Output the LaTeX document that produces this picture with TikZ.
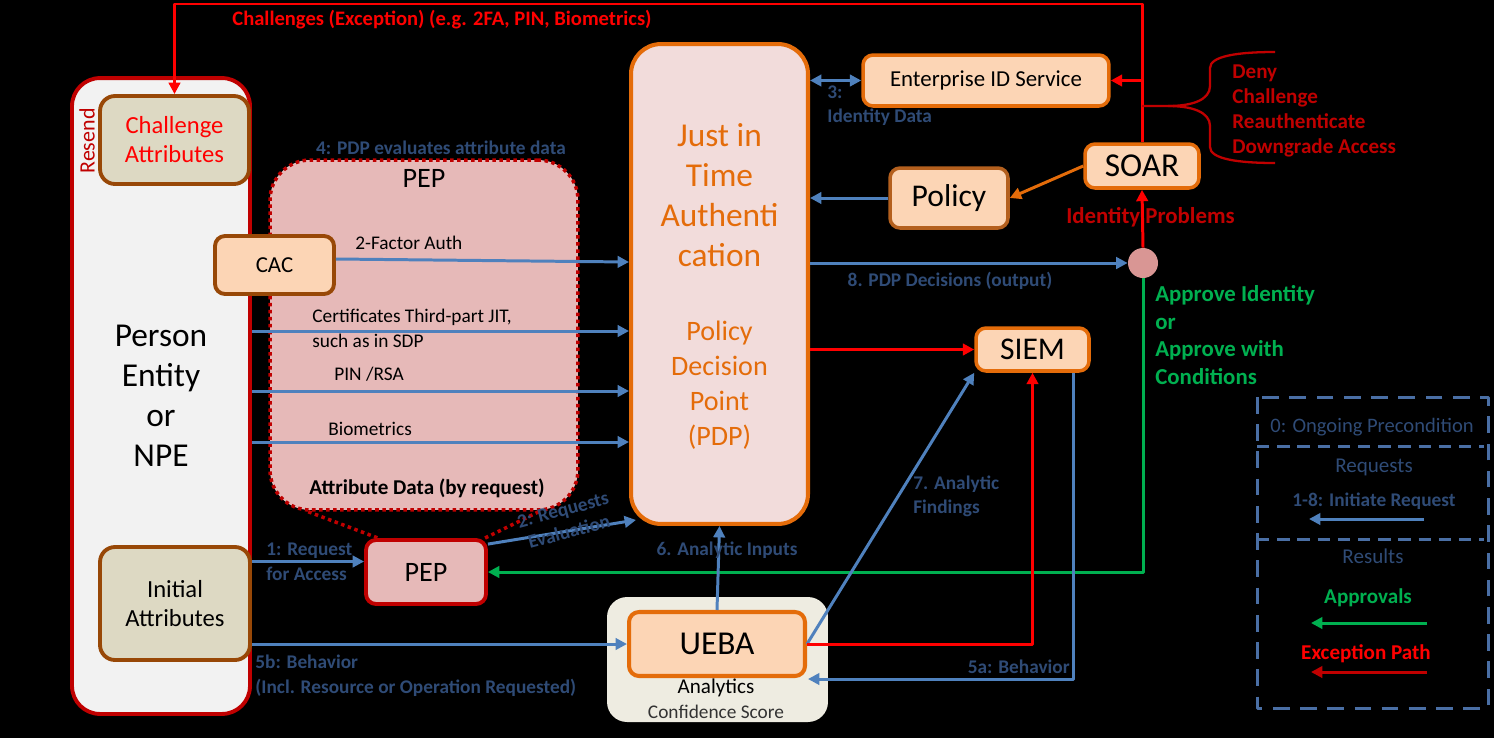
\documentclass[tikz,border=0pt]{standalone}
\usepackage{fontspec}
\setmainfont{Carlito}
\usetikzlibrary{arrows.meta,calc,positioning}
\newcommand\fsz[2]{\fontsize{#1}{#2}\selectfont}
\definecolor{darkred}{HTML}{C00000}
\definecolor{brightred}{HTML}{FF0000}
\definecolor{steel}{HTML}{4F81BD}
\definecolor{navytext}{HTML}{2F4B76}
\definecolor{jitorange}{HTML}{E46C0A}
\definecolor{peachfill}{HTML}{FCD5B5}
\definecolor{pinkfill}{HTML}{F2DCDB}
\definecolor{rosefill}{HTML}{E6B9B8}
\definecolor{tanfill}{HTML}{DDD9C3}
\definecolor{brownline}{HTML}{984807}
\definecolor{policyline}{HTML}{B4601E}
\definecolor{entfill}{HTML}{F2F2F2}
\definecolor{creamfill}{HTML}{EEECE1}
\definecolor{apgreen}{HTML}{00B050}
\definecolor{dotpink}{HTML}{D99694}
\definecolor{legendblue}{HTML}{4A6FA5}
\tikzset{
  entbox/.style={draw=darkred, fill=entfill, line width=2.2pt, rounded corners=0.56cm, inner sep=0pt, align=center},
  attrbox/.style={draw=brownline, fill=tanfill, line width=2.2pt, rounded corners=0.3cm, inner sep=0pt, align=center, font=\fsz{14}{16.5}},
  servbox/.style={draw=jitorange, fill=peachfill, line width=2pt, rounded corners=0.2cm, inner sep=0pt, align=center},
  bluearrow/.style={draw=steel, line width=1.7pt, -{Triangle[length=6.5pt,width=6.5pt]}},
  redarrow/.style={draw=brightred, line width=1.7pt, -{Triangle[length=6.5pt,width=6.5pt]}},
  greenarrow/.style={draw=apgreen, line width=1.7pt, -{Triangle[length=6.5pt,width=6.5pt]}},
  steplabel/.style={text=navytext, font=\bfseries\fsz{11}{14}, align=left, inner xsep=0pt},
  attrlabel/.style={font=\fsz{11}{14.2}, align=left, inner xsep=0pt},
  legenddash/.style={draw=legendblue, line width=1.7pt, dash pattern=on 9.5pt off 6pt}
}
\begin{document}
\begin{tikzpicture}[x=0.02cm, y=-0.02cm, line join=round]
\useasboundingbox (0,0) rectangle (1494,738);
\fill[black] (0,0) rectangle (1494,738);

% boxes
\node[entbox, minimum width=3.56cm, minimum height=12.72cm, font=\fsz{19}{22.8}] (person) at (161,396) {Person\\Entity\\or\\NPE};
\node[attrbox, text=brightred, minimum width=2.98cm, minimum height=1.76cm] (chall) at (174.5,140) {Challenge\\Attributes};
\node[attrbox, minimum width=3cm, minimum height=2.26cm] (init) at (175,603.5) {Initial\\Attributes};
\node[draw=darkred, fill=rosefill, line width=2pt, dotted, rounded corners=0.8cm, minimum width=6.16cm, minimum height=7cm] (pepbox) at (424,335) {};
\node[font=\fsz{16}{19}] (peptitle) at (424,178) {PEP};
\node[font=\bfseries\fsz{12}{14}] (attrdata) at (427,488) {Attribute Data (by request)};
\node[servbox, draw=brownline, line width=2.2pt, minimum width=2.38cm, minimum height=1.16cm, font=\fsz{13}{15}] (cac) at (274.5,265) {CAC};

\node[draw=jitorange, fill=pinkfill, line width=2.3pt, rounded corners=0.6cm, minimum width=3.54cm, minimum height=9.6cm] (jit) at (719.5,284) {};
\node[text=jitorange, font=\fsz{19}{22.8}, align=center] (jittext) at (719.5,195) {Just in\\Time\\Authenti\\cation};
\node[text=jitorange, font=\fsz{16}{19.9}, align=center] (pdptext) at (719.5,385) {Policy\\Decision\\Point\\(PDP)};

\node[servbox, minimum width=4.92cm, minimum height=1.02cm, font=\fsz{13}{15}] (eid) at (986,80.5) {Enterprise ID Service};
\node[servbox, draw=policyline, minimum width=2.36cm, minimum height=1.2cm, font=\fsz{18}{21}] (policy) at (949,198) {Policy};
\node[servbox, minimum width=2.28cm, minimum height=0.88cm, font=\fsz{19}{22}] (soar) at (1142,166) {SOAR};
\node[circle, fill=dotpink, minimum size=0.6cm, inner sep=0pt] (dot) at (1143,263) {};
\node[servbox, minimum width=2.26cm, minimum height=0.86cm, font=\fsz{18}{21}] (siem) at (1032.5,349.5) {SIEM};
\node[draw=darkred, fill=rosefill, line width=2.2pt, rounded corners=0.2cm, minimum width=2.4cm, minimum height=1.28cm, font=\fsz{16}{19}] (pep) at (426,572) {PEP};

\node[fill=creamfill, rounded corners=0.4cm, minimum width=4.42cm, minimum height=2.5cm] (uebabg) at (717.5,659.5) {};
\node[servbox, line width=2.3pt, minimum width=3.52cm, minimum height=1.28cm, font=\fsz{19}{22}] (ueba) at (717,644) {UEBA};
\node[font=\fsz{12}{14}] (analytics) at (716,688) {Analytics};
\node[font=\fsz{11}{13}, text=black!80] (confscore) at (716,712) {Confidence Score};

% exception path from SOAR
\coordinate (topbend) at (1142,4);
\draw[redarrow] (soar.north) -- (topbend) -| (chall.north);
\draw[redarrow] (soar.north |- eid.east) -- (eid.east);
\coordinate (bracetip) at (1168,106);
\draw[darkred, line width=1.3pt] (soar.north |- bracetip) -- (bracetip)
  .. controls (1192,106) and (1210,100) .. (1210,86) -- (1210,68)
  .. controls (1210,56) and (1238,52) .. (1275,52);
\draw[darkred, line width=1.3pt] (bracetip)
  .. controls (1192,106) and (1210,112) .. (1210,126) -- (1210,147)
  .. controls (1210,159) and (1238,163) .. (1275,163);
\draw[draw=jitorange, line width=1.7pt, -{Triangle[length=6.5pt,width=6.5pt]}] (soar.west) -- (policy.east);
\draw[bluearrow] (policy.west) -- (policy.west -| jit.east);
\draw[bluearrow, {Triangle[length=6.5pt,width=6.5pt]}-{Triangle[length=6.5pt,width=6.5pt]}] (jit.east |- eid.west) -- (eid.west);

% decisions
\draw[bluearrow] (jit.east |- dot.west) -- (dot.west);
\draw[redarrow] (dot.north) -- (soar.south);
\draw[greenarrow] (dot.south) |- (pep.east);
\draw[redarrow] (jit.east |- siem.west) -- (siem.west);

% analytics
\draw[bluearrow] (ueba.east) -- (siem.south west);
\draw[redarrow] (ueba.east) -| (siem.south);
\coordinate (behin) at (808,679);
\draw[bluearrow] ($(siem.south)+(40.5,0)$) |- (behin);
\draw[bluearrow] (ueba.north) -- (jit.south);
\draw[bluearrow] ($(pep.north east)+(0,6)$) -- ($(jit.south west)+(7,-6)$);
\draw[draw=darkred, line width=2pt, dotted] ($(pepbox.south west)+(40,0)$) -- ($(pep.north west)+(14,0)$);
\draw[draw=darkred, line width=2pt, dotted] ($(pepbox.south east)+(-41,0)$) -- ($(pep.north east)+(-3,0)$);

% attribute data arrows
\node[attrlabel, anchor=west] (factorlbl) at (355,243) {2-Factor Auth};
\node[attrlabel, anchor=west] (certlbl) at (312,328.5) {Certificates Third-part JIT,\\such as in SDP};
\node[attrlabel, anchor=west] (pinlbl) at (334,374) {PIN /RSA};
\node[attrlabel, anchor=west] (biolbl) at (328,429) {Biometrics};
\coordinate (certin) at (person.east |- 0,331);
\coordinate (pinin) at (person.east |- 0,391);
\coordinate (bioin) at (person.east |- 0,442);
\draw[bluearrow] ([yshift=0.12cm]cac.east) -- ([yshift=0.06cm]cac.east -| jit.west);
\draw[bluearrow] (certin) -- (certin -| jit.west);
\draw[bluearrow] (pinin) -- (pinin -| jit.west);
\draw[bluearrow] (bioin) -- (bioin -| jit.west);

% requests
\node[steplabel, anchor=west] (reqlbl) at (266,561.5) {1: Request\\for Access};
\draw[bluearrow] (person.east |- reqlbl.west) -- (pep.west |- reqlbl.west);
\draw[bluearrow] (person.east |- ueba.west) -- (ueba.west);

% labels
\node[text=brightred, font=\bfseries\fsz{11.7}{14}] (chlbl) at (442,20) {Challenges (Exception) (e.g. 2FA, PIN, Biometrics)};
\node[text=darkred, font=\fsz{12.5}{15}, rotate=90] (resend) at (87,141) {Resend};
\node[steplabel] (evallbl) at (441,148) {4: PDP evaluates attribute data};
\node[steplabel, anchor=west] (idlbl) at (827,105.5) {3:\\Identity Data};
\node[steplabel] (declbl) at (950,281) {8. PDP Decisions (output)};
\node[text=darkred, font=\bfseries\fsz{13}{15}] (problbl) at (1150.5,217) {Identity Problems};
\node[text=darkred, font=\bfseries\fsz{12}{14.2}, align=left, anchor=west, inner xsep=0pt] (denylbl) at (1232,111) {Deny\\Challenge\\Reauthenticate\\Downgrade Access};
\node[text=apgreen, font=\bfseries\fsz{13}{15.6}, align=left, anchor=west, inner xsep=0pt] (approvelbl) at (1155,335) {Approve Identity\\or\\Approve with\\Conditions};
\node[steplabel, anchor=west] (findlbl) at (913,496.5) {7. Analytic\\Findings};
\node[steplabel] (inputlbl) at (727,550) {6. Analytic Inputs};
\node[steplabel, align=center, rotate=15, font=\bfseries\fsz{11}{13}] (evalrot) at (566,521) {2: Requests\\Evaluation};
\node[steplabel, anchor=west] (behlbl) at (255,675.5) {5b: Behavior\\(Incl. Resource or Operation Requested)};
\node[steplabel, anchor=east] (sbehlbl) at (1070,667) {5a: Behavior};

% legend
\draw[legenddash] (1257,397) rectangle (1488,708);
\draw[legenddash, dash pattern=on 7pt off 4.5pt] (1257,446) -- (1484,446);
\draw[legenddash, dash pattern=on 7pt off 4.5pt] (1257,539) -- (1484,539);
\node[text=navytext, font=\fsz{11.7}{14}] (ongoing) at (1372,427) {0: Ongoing Precondition};
\node[text=navytext, font=\fsz{12}{14}] (reqhead) at (1374,467) {Requests};
\node[steplabel] (initreq) at (1374,501) {1-8: Initiate Request};
\node[text=navytext, font=\fsz{12}{14}] (reshead) at (1373,556) {Results};
\node[text=apgreen, font=\bfseries\fsz{12}{14}] (approvals) at (1368,598) {Approvals};
\node[text=brightred, font=\bfseries\fsz{12}{14}] (excpath) at (1366,654) {Exception Path};
\coordinate (keyblue) at (1424,519);
\coordinate (keygreen) at (1427,623);
\coordinate (keyred) at (1427,672);
\draw[bluearrow] (keyblue) -- ++(-115,0);
\draw[greenarrow] (keygreen) -- ++(-116,0);
\draw[redarrow, draw=darkred] (keyred) -- ++(-116,0);
\end{tikzpicture}
\end{document}
